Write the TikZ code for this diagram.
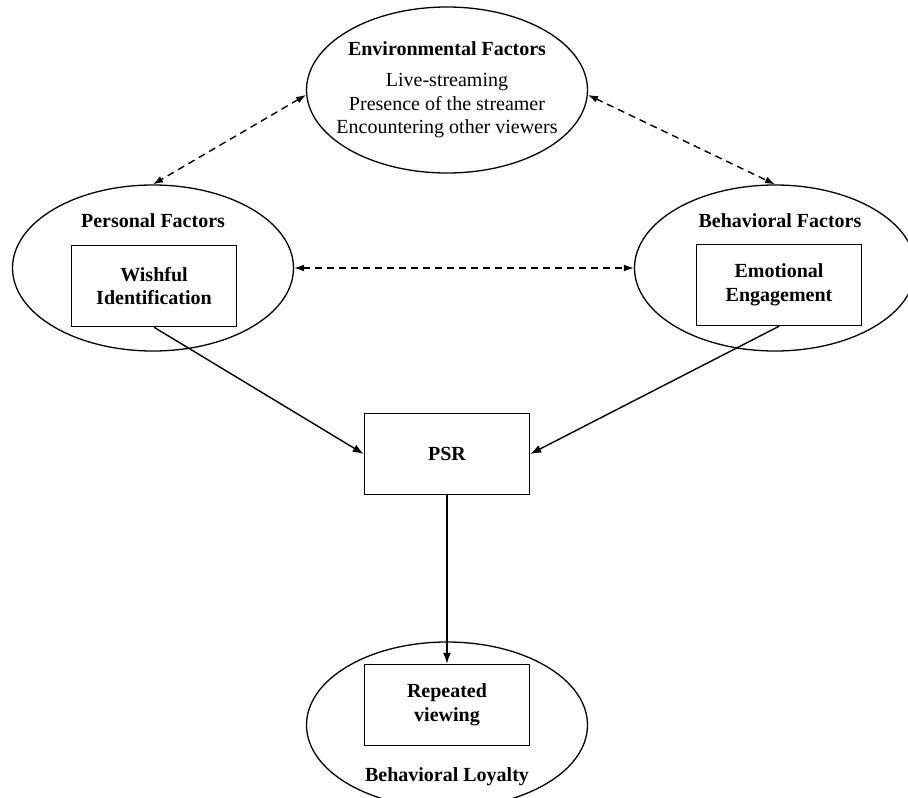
\documentclass[tikz,border=0pt]{standalone}
\usepackage{fontspec}
\setmainfont{Liberation Serif}
\usetikzlibrary{shapes.geometric,arrows.meta}

\begin{document}
\fontsize{20}{23.5}\selectfont
\begin{tikzpicture}[x=1pt,y=-1pt,
		oval/.style={draw,ellipse,line width=1.3pt,minimum width=281pt,minimum height=166pt},
		box/.style={draw,rectangle,line width=1.5pt,minimum width=165pt,minimum height=81pt,align=center,font=\bfseries},
		title/.style={font=\bfseries},
		link/.style={-{Latex[length=11pt,width=8pt]},line width=1.4pt},
		mutual/.style={{Latex[length=10pt,width=7pt]}-{Latex[length=10pt,width=7pt]},dash pattern=on 7pt off 5pt,line width=1.4pt}]
		\useasboundingbox (0,0) rectangle (908,798);
		% ellipses
		\node[oval] (env) at (447,90) {};
		\node[oval] (per) at (153,268) {};
		\node[oval] (beh) at (775,268) {};
		\node[oval] (loy) at (447,725) {};
		% texts of the ellipses
		\node[title] (envt) at (447,49) {Environmental Factors};
		\node[align=center] (envl) at (447,106) {Live-streaming\\Presence of the streamer\\Encountering other viewers};
		\node[title] (pert) at (153,221) {Personal Factors};
		\node[title] (beht) at (780,221) {Behavioral Factors};
		\node[title] (loyt) at (447,777) {Behavioral Loyalty};
		% boxes
		\node[box] (wish) at (154,286) {Wishful\\Identification};
		\node[box] (emo) at (779,285) {Emotional\\Engagement};
		\node[box] (psr) at (447,454) {PSR};
		\node[box] (rep) at (447,705) {Repeated\\viewing};
		% connectors
		\draw[mutual] (env.182) -- (per.north);
		\draw[mutual] (env.358) -- (beh.north);
		\draw[mutual] (per.east) -- (beh.west);
		\draw[link] (wish.south) -- (psr.west);
		\draw[link] (emo.south) -- (psr.east);
		\draw[link] (psr.south) -- (rep.north);
	\end{tikzpicture}
\end{document}
